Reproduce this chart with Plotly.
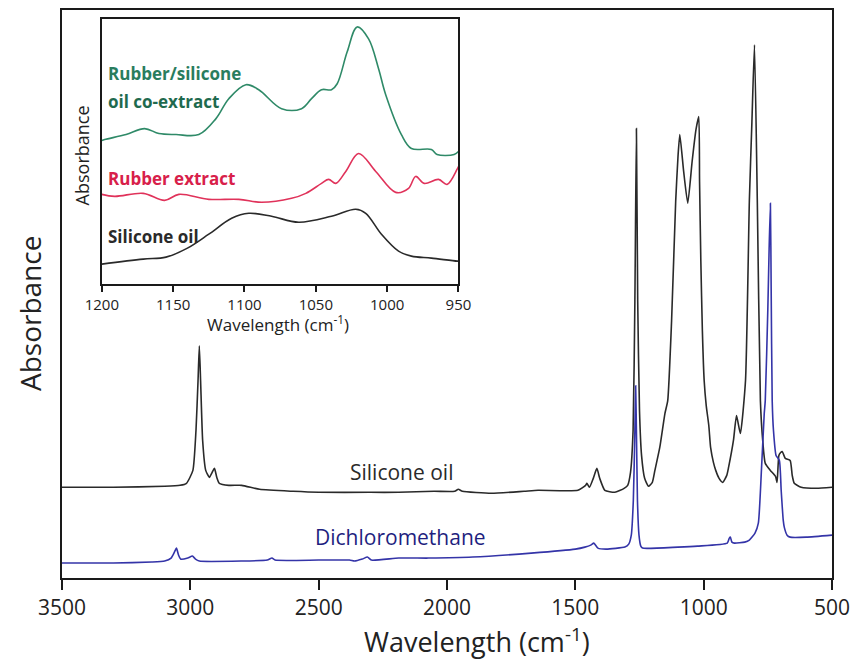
import plotly.graph_objects as go

# ---------------- data (arbitrary absorbance units) ----------------
sil_wn = [3500, 3300, 3100, 3040, 3015, 2990, 2978, 2970, 2965, 2960, 2952, 2940, 2926, 2915, 2906,
          2897, 2887, 2850, 2800, 2730, 2600, 2500, 2300, 2188, 2050, 1970, 1956, 1940, 1827, 1700,
          1645, 1490, 1460, 1455, 1445, 1430, 1416, 1405, 1385, 1346, 1310, 1296, 1285, 1275, 1268,
          1262, 1257, 1250, 1242, 1230, 1215, 1200, 1190, 1171, 1151, 1140, 1125, 1109, 1100, 1093,
          1078, 1062, 1045, 1030, 1019, 1016, 1011, 1005, 998, 990, 980, 973, 962, 953, 940, 926,
          910, 903, 884, 872, 857, 837, 822, 812, 802, 791, 779, 770, 760, 740, 720, 714, 707, 700,
          694, 682, 663, 655, 647, 620, 560, 500]
sil_abs = [91, 91, 92, 93, 95, 108, 148, 198, 233, 198, 138, 108, 101, 106, 110,
           101, 95, 93, 93, 89, 87, 86, 86, 86, 87, 87, 89, 87, 85, 87,
           88, 88, 93, 95, 91, 100, 110, 100, 88, 86, 90, 93, 106, 148, 278,
           451, 278, 168, 123, 100, 92, 96, 108, 131, 165, 178, 258, 378, 423, 445,
           408, 376, 418, 450, 463, 398, 318, 248, 198, 173, 153, 131, 116, 108, 100, 96,
           103, 111, 138, 163, 145, 198, 378, 458, 535, 378, 178, 138, 115, 108, 102, 96, 123, 126,
           127, 120, 118, 103, 95, 91, 90, 91]

dcm_wn = [3500, 3300, 3150, 3100, 3075, 3062, 3054, 3046, 3038, 3010, 2992, 2980, 2965, 2800, 2700,
          2682, 2670, 2500, 2380, 2360, 2330, 2310, 2295, 2188, 2072, 1900, 1672, 1500, 1463, 1440,
          1428, 1412, 1380, 1307, 1292, 1282, 1274, 1268, 1265, 1262, 1258, 1252, 1245, 1238, 1100,
          1024, 908, 900, 896, 890, 880, 840, 822, 800, 787, 775, 764, 760, 750, 745, 740, 737,
          733, 728, 718, 705, 698, 690, 686, 675, 663, 600, 500]
dcm_abs = [15, 15, 16, 17, 20, 26, 30, 23, 19, 20, 22, 19, 17, 17, 18,
           20, 18, 18, 18, 17, 19, 21, 18, 20, 20, 21, 25, 29, 31, 33,
           35, 30, 29, 31, 34, 43, 78, 148, 193, 148, 78, 43, 32, 30, 31,
           32, 35, 40, 41, 36, 35, 36, 38, 45, 55, 108, 165, 178, 270, 330, 376, 290,
           178, 148, 123, 118, 88, 58, 51, 43, 41, 41, 43]

# inset (1200-950 cm-1)
ins_green_wn = [1200, 1198, 1183, 1170, 1160, 1148, 1132, 1120, 1111, 1099, 1090, 1074, 1060, 1053,
                1046, 1039, 1035, 1028, 1021, 1013, 1006, 1001, 990, 983, 969, 965, 953, 950]
ins_green_abs = [144, 145, 150, 156, 151, 150, 150, 166, 186, 200, 195, 176, 176, 186,
                 195, 195, 201, 233, 258, 246, 216, 190, 150, 136, 135, 130, 130, 133]
ins_red_wn = [1200, 1191, 1171, 1156, 1146, 1125, 1104, 1088, 1067, 1057, 1046, 1041, 1036,
              1029, 1020, 1008, 994, 985, 980, 974, 964, 958, 951, 950]
ins_red_abs = [90, 88, 91, 84, 90, 85, 85, 82, 86, 91, 101, 105, 101,
               113, 131, 113, 92, 96, 108, 101, 105, 100, 115, 118]
ins_blk_wn = [1200, 1171, 1155, 1140, 1125, 1109, 1097, 1081, 1062, 1039, 1022, 1015, 1004, 992,
              983, 969, 951, 950]
ins_blk_abs = [20, 25, 27, 36, 50, 66, 71, 68, 62, 68, 75, 71, 50, 33,
               28, 26, 23, 23]

main_ticks = [3500, 3000, 2500, 2000, 1500, 1000, 500]
inset_ticks = [1200, 1150, 1100, 1050, 1000, 950]

# ---------------- figure ----------------
W, H = 858, 664
L, R, T, B = 62, 835, 8, 578
IL, IR, IT, IB = 102, 460, 17, 283
FONT = "Open Sans"


def px(xp):
    return (xp - L) / (R - L)


def py(yp):
    return (B - yp) / (B - T)


fig = go.Figure()
fig.add_trace(go.Scatter(x=sil_wn, y=sil_abs, mode="lines",
                         line=dict(color="#2a2a2a", width=1.6, shape="spline", smoothing=0.5),
                         xaxis="x", yaxis="y"))
fig.add_trace(go.Scatter(x=dcm_wn, y=dcm_abs, mode="lines",
                         line=dict(color="#3434a8", width=1.6, shape="spline", smoothing=0.5),
                         xaxis="x", yaxis="y"))
fig.add_trace(go.Scatter(x=ins_green_wn, y=ins_green_abs, mode="lines",
                         line=dict(color="#2f8a68", width=1.6, shape="spline", smoothing=1.0),
                         xaxis="x2", yaxis="y2"))
fig.add_trace(go.Scatter(x=ins_red_wn, y=ins_red_abs, mode="lines",
                         line=dict(color="#e0325a", width=1.6, shape="spline", smoothing=1.0),
                         xaxis="x2", yaxis="y2"))
fig.add_trace(go.Scatter(x=ins_blk_wn, y=ins_blk_abs, mode="lines",
                         line=dict(color="#2a2a2a", width=1.6, shape="spline", smoothing=1.0),
                         xaxis="x2", yaxis="y2"))

ax_common = dict(showgrid=False, zeroline=False, showline=True, linecolor="#1a1a1a",
                 linewidth=1.8, mirror=True)

fig.update_layout(
    width=W, height=H,
    margin=dict(l=L, r=W - R, t=T, b=H - B),
    paper_bgcolor="white", plot_bgcolor="white",
    showlegend=False,
    font=dict(family=FONT, color="#222"),
    xaxis=dict(range=[3500, 500], tickvals=main_ticks, ticks="outside", ticklen=10,
               tickwidth=1.8, tickcolor="#1a1a1a", tickfont=dict(size=21, color="#222"),
               domain=[0, 1], anchor="y", **ax_common),
    yaxis=dict(range=[0, 570], showticklabels=False, ticks="", domain=[0, 1],
               anchor="x", **ax_common),
    xaxis2=dict(range=[1200, 950], tickvals=inset_ticks, ticks="outside", ticklen=6,
                tickwidth=1.5, tickcolor="#1a1a1a", tickfont=dict(size=15, color="#222"),
                domain=[px(IL), px(IR)], anchor="y2", **ax_common),
    yaxis2=dict(range=[0, 266], showticklabels=False, ticks="",
                domain=[py(IB), py(IT)], anchor="x2", **ax_common),
)

ann = []


def add_text(text, x, y, size, color="#222", angle=0, xanchor="center"):
    ann.append(dict(text=text, x=px(x), y=py(y), xref="paper", yref="paper",
                    showarrow=False, xanchor=xanchor, yanchor="middle", textangle=angle,
                    font=dict(size=size, color=color, family=FONT)))


add_text("Wavelength (cm<sup>-1</sup>)", 479, 641, 27)
add_text("Absorbance", 30, 313, 28, angle=-90)
add_text("Silicone oil", 403, 472, 21, color="#2a2a2a")
add_text("Dichloromethane", 402, 537, 21, color="#1f1f80")
add_text("Wavelength (cm<sup>-1</sup>)", 279, 323, 17)
add_text("Absorbance", 83, 154, 18, angle=-90)
add_text("<b>Rubber/silicone</b>", 106, 72, 17, color="#2a7d5e", xanchor="left")
add_text("<b>oil co-extract</b>", 106, 100, 17, color="#1f6a4e", xanchor="left")
add_text("<b>Rubber extract</b>", 106, 177, 17, color="#d8204a", xanchor="left")
add_text("<b>Silicone oil</b>", 106, 235, 17, color="#2a2a2a", xanchor="left")

fig.update_layout(annotations=ann)
fig.write_html("out.html", config={"displayModeBar": False},
               post_script="document.body.style.margin='0';")
